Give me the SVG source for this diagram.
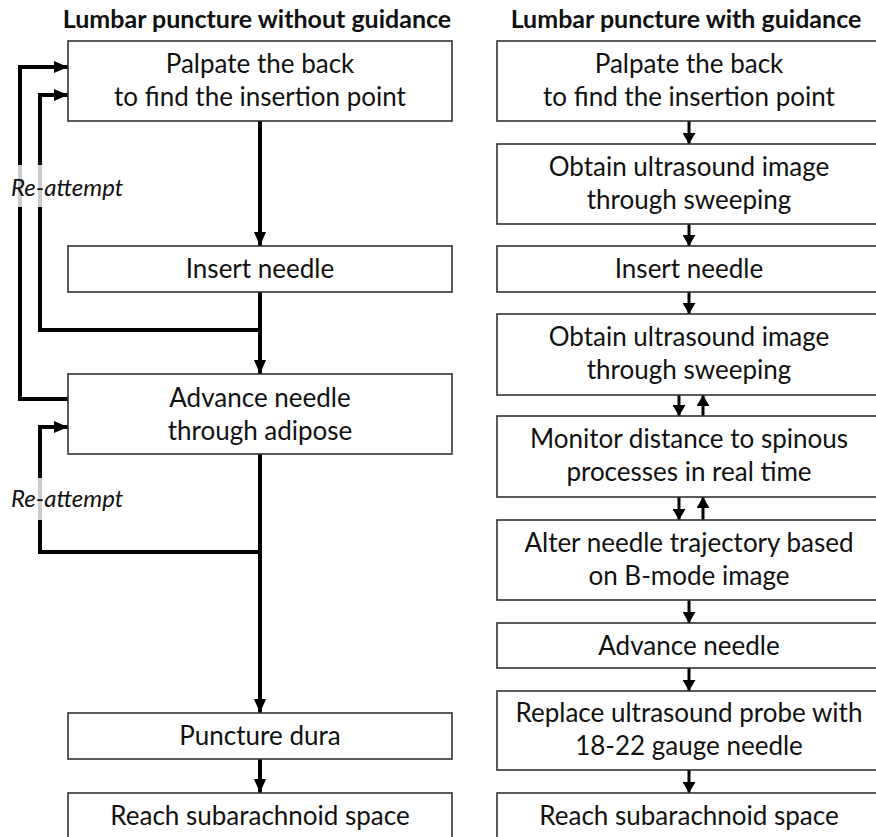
<svg xmlns="http://www.w3.org/2000/svg" width="876" height="837" viewBox="0 0 876 837">
<defs>
<marker id="ah" markerUnits="userSpaceOnUse" markerWidth="14" markerHeight="12" refX="14" refY="6" orient="auto">
<path d="M0,0 L14,6 L0,12 Z" fill="#000"/>
</marker>
<marker id="ahs" markerUnits="userSpaceOnUse" markerWidth="11" markerHeight="13" refX="11" refY="6.5" orient="auto">
<path d="M0,0 L11,6.5 L0,13 Z" fill="#000"/>
</marker>
<style>
.box{fill:#fff;stroke:#333;stroke-width:1.6}
.t{font-family:Lato,"Open Sans",sans-serif;font-size:26px;fill:#111;text-anchor:middle}
.h{font-family:Lato,"Open Sans",sans-serif;font-size:25px;font-weight:bold;fill:#111;text-anchor:middle}
.lbl{font-family:Lato,"Open Sans",sans-serif;font-size:24px;font-style:italic;fill:#111}
.c{fill:none;stroke:#000;stroke-width:4}
.cs{fill:none;stroke:#000;stroke-width:3}
</style>
</defs>
<rect width="876" height="837" fill="#fff"/>
<text class="h" x="257" y="28">Lumbar puncture without guidance</text>
<text class="h" x="686" y="28">Lumbar puncture with guidance</text>

<g id="connectors">
<path class="c" d="M260,121 V246" marker-end="url(#ah)"/>
<path class="c" d="M260,292 V374" marker-end="url(#ah)"/>
<path class="c" d="M260,454 V713" marker-end="url(#ah)"/>
<path class="c" d="M260,759 V793" marker-end="url(#ah)"/>
<path class="c" d="M68,399 H20 V67 H68" marker-end="url(#ah)"/>
<path class="c" d="M260,330 H40 V95 H68" marker-end="url(#ah)"/>
<path class="c" d="M260,552 H40 V427 H68" marker-end="url(#ah)"/>
<path class="cs" d="M689,121 V144" marker-end="url(#ahs)"/>
<path class="cs" d="M689,224 V246" marker-end="url(#ahs)"/>
<path class="cs" d="M689,292 V314" marker-end="url(#ahs)"/>
<path class="cs" d="M679,395 V416" marker-end="url(#ahs)"/>
<path class="cs" d="M703,416 V395" marker-end="url(#ahs)"/>
<path class="cs" d="M679,497 V520" marker-end="url(#ahs)"/>
<path class="cs" d="M703,520 V497" marker-end="url(#ahs)"/>
<path class="cs" d="M689,600 V623" marker-end="url(#ahs)"/>
<path class="cs" d="M689,668 V691" marker-end="url(#ahs)"/>
<path class="cs" d="M689,770 V793" marker-end="url(#ahs)"/>
</g>

<g id="reattempt1">
<rect x="8" y="165" width="40" height="42" fill="#fff" opacity="0.8"/>
<text class="lbl" x="11" y="196">Re-attempt</text>
</g>
<g id="reattempt2">
<rect x="30" y="478" width="20" height="42" fill="#fff" opacity="0.8"/>
<text class="lbl" x="11" y="507">Re-attempt</text>
</g>

<g id="l1"><rect class="box" x="68" y="41" width="384" height="80"/>
<text class="t" x="260" y="73">Palpate the back</text><text class="t" x="260" y="106">to find the insertion point</text></g>
<g id="l2"><rect class="box" x="68" y="246" width="384" height="46"/>
<text class="t" x="260" y="278">Insert needle</text></g>
<g id="l3"><rect class="box" x="68" y="374" width="384" height="80"/>
<text class="t" x="260" y="407">Advance needle</text><text class="t" x="260" y="440">through adipose</text></g>
<g id="l4"><rect class="box" x="68" y="713" width="384" height="46"/>
<text class="t" x="260" y="745">Puncture dura</text></g>
<g id="l5"><rect class="box" x="68" y="793" width="384" height="60"/>
<text class="t" x="260" y="825">Reach subarachnoid space</text></g>

<g id="r1"><rect class="box" x="497" y="41" width="384" height="80"/>
<text class="t" x="689" y="73">Palpate the back</text><text class="t" x="689" y="106">to find the insertion point</text></g>
<g id="r2"><rect class="box" x="497" y="144" width="384" height="80"/>
<text class="t" x="689" y="176">Obtain ultrasound image</text><text class="t" x="689" y="209">through sweeping</text></g>
<g id="r3"><rect class="box" x="497" y="246" width="384" height="46"/>
<text class="t" x="689" y="278">Insert needle</text></g>
<g id="r4"><rect class="box" x="497" y="314" width="384" height="81"/>
<text class="t" x="689" y="346">Obtain ultrasound image</text><text class="t" x="689" y="379">through sweeping</text></g>
<g id="r5"><rect class="box" x="497" y="416" width="384" height="81"/>
<text class="t" x="689" y="448">Monitor distance to spinous</text><text class="t" x="689" y="481">processes in real time</text></g>
<g id="r6"><rect class="box" x="497" y="520" width="384" height="80"/>
<text class="t" x="689" y="552">Alter needle trajectory based</text><text class="t" x="689" y="585">on B-mode image</text></g>
<g id="r7"><rect class="box" x="497" y="623" width="384" height="45"/>
<text class="t" x="689" y="655">Advance needle</text></g>
<g id="r8"><rect class="box" x="497" y="691" width="384" height="79"/>
<text class="t" x="689" y="722">Replace ultrasound probe with</text><text class="t" x="689" y="755">18-22 gauge needle</text></g>
<g id="r9"><rect class="box" x="497" y="793" width="384" height="60"/>
<text class="t" x="689" y="825">Reach subarachnoid space</text></g>
</svg>
